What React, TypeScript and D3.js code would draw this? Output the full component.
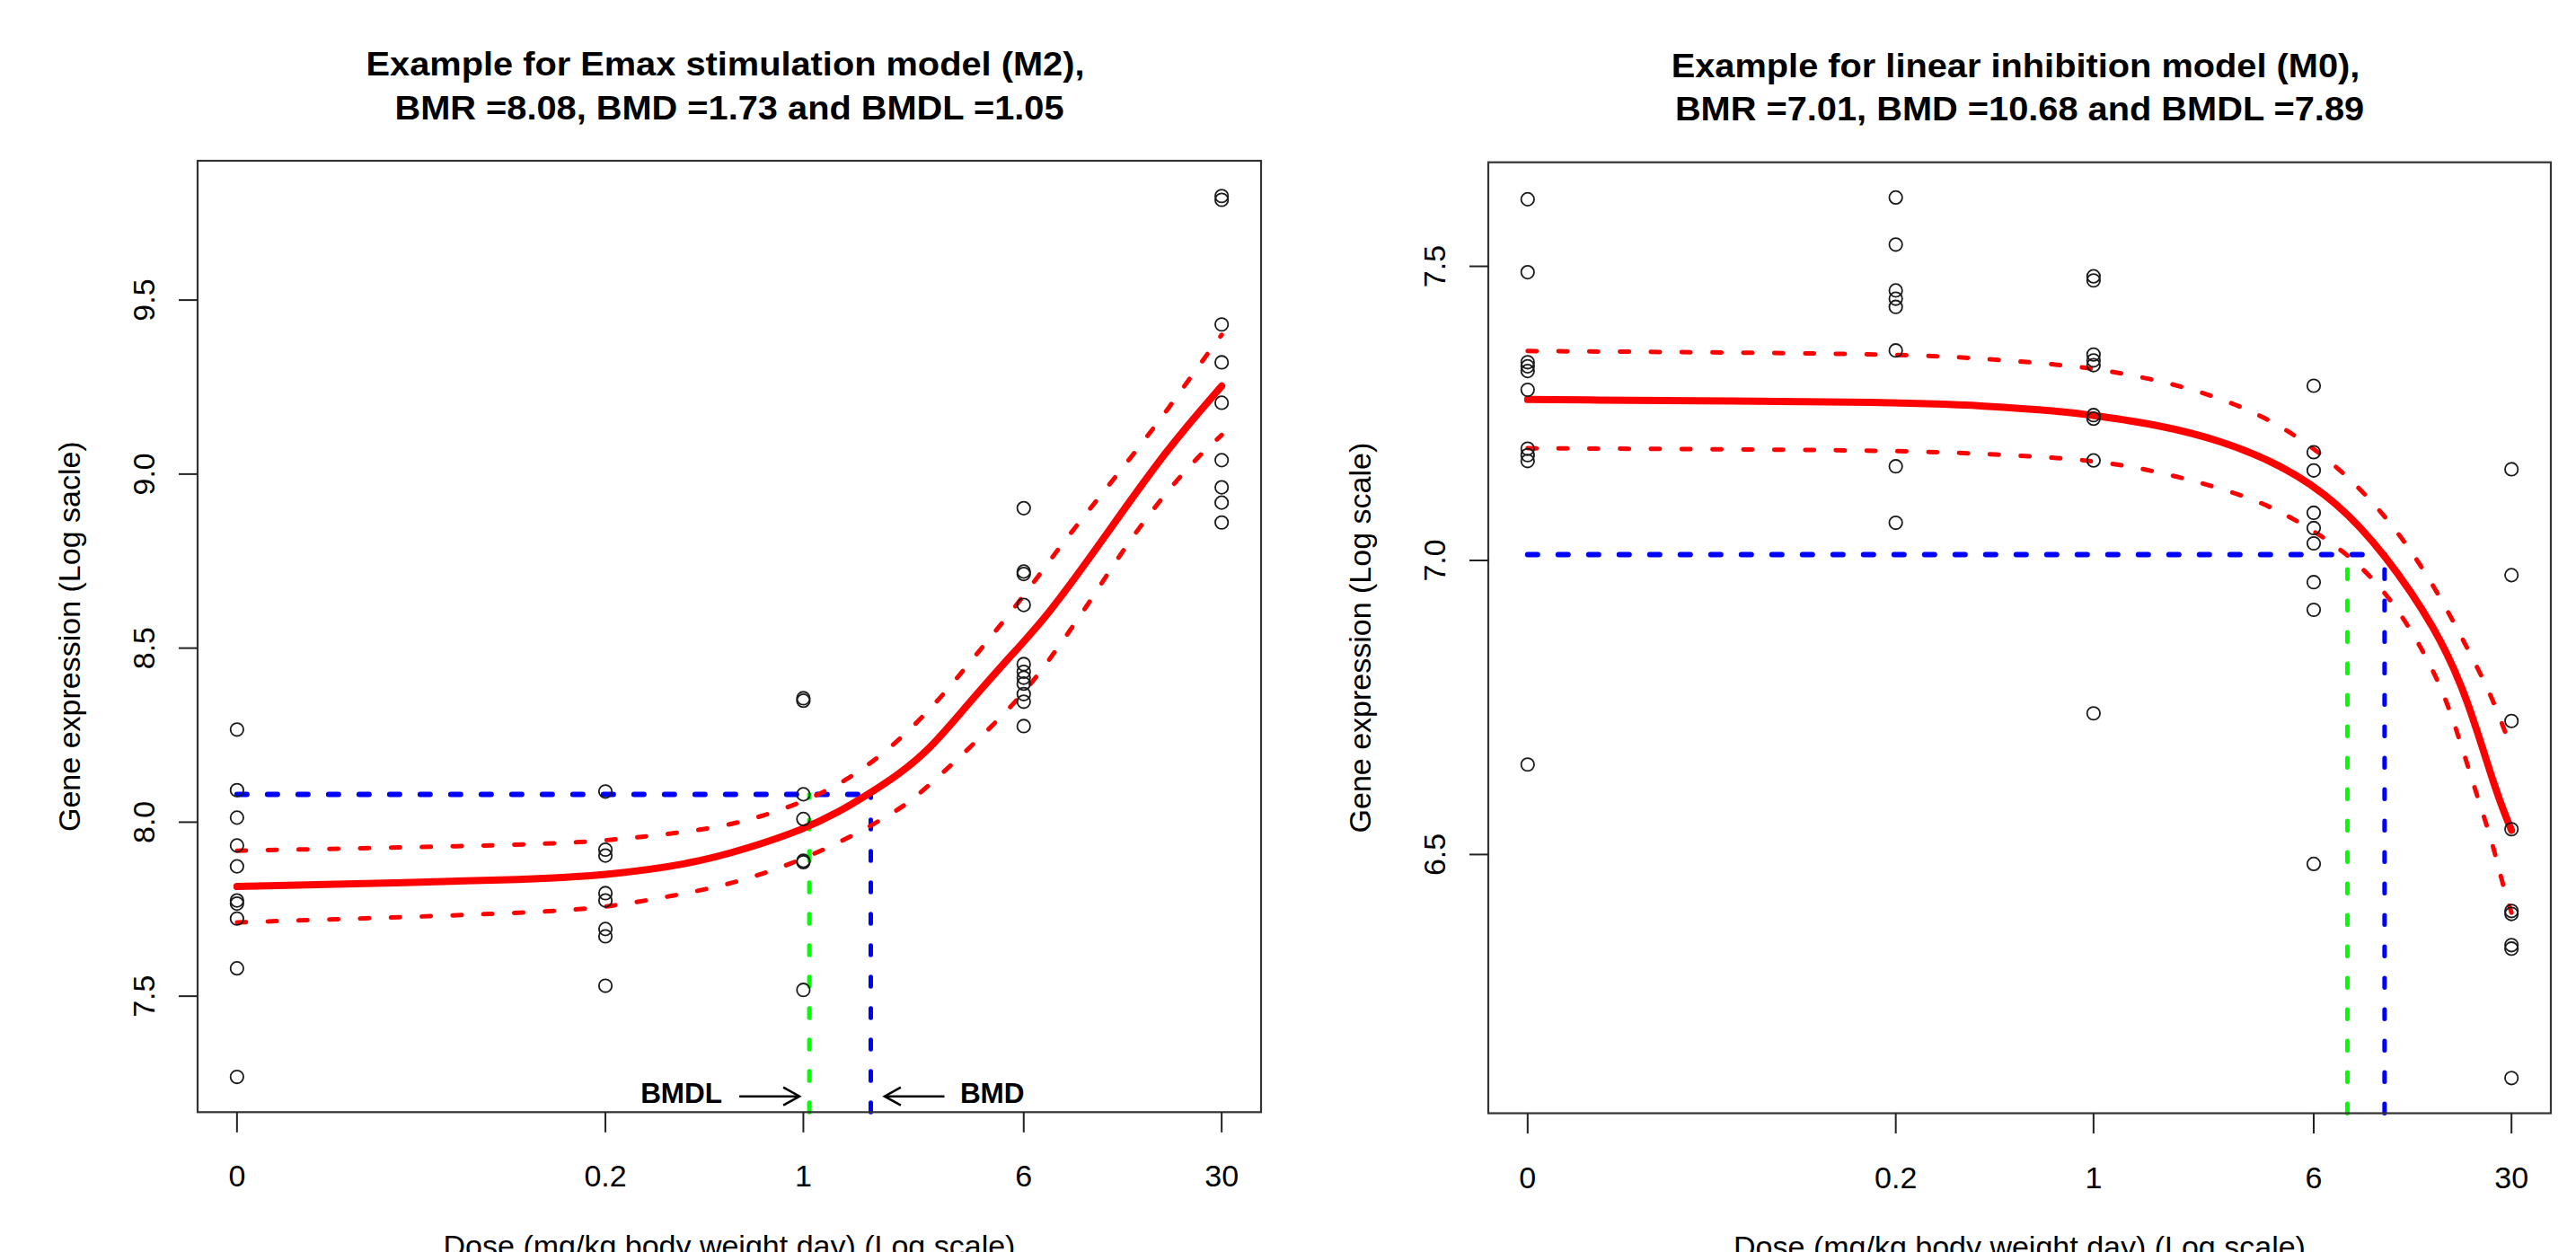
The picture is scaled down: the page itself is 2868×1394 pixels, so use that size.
import React from 'react';
import * as d3 from 'd3';

const W = 2868;
const H = 1394;

// ---------- shared x axis ----------
const doseLevels = [0, 0.2, 1, 6, 30];
const doseTickLabels = ['0', '0.2', '1', '6', '30'];
const ZERO_POS = 0.01; // dose 0 is drawn at 0.01 on the log axis

// ---------- left panel: Emax stimulation model (M2) ----------
const emaxObsByDose = [
  [8.266, 8.092, 8.013, 7.933, 7.873, 7.775, 7.766, 7.723, 7.58, 7.268],
  [8.088, 7.921, 7.904, 7.796, 7.775, 7.693, 7.672, 7.53],
  [8.356, 8.349, 8.08, 8.009, 7.889, 7.885, 7.518],
  [8.902, 8.72, 8.713, 8.624, 8.454, 8.432, 8.415, 8.398, 8.368, 8.346, 8.276],
  [9.799, 9.788, 9.43, 9.321, 9.205, 9.04, 8.962, 8.918, 8.861],
];
const emaxFitDose = [0, 0.1166, 0.2, 0.3937, 0.64, 1.0, 1.327, 1.694, 2.16, 2.754, 3.69, 5.06, 7.29, 11.88, 19.2, 30];
const emaxFitValue = [7.815, 7.835, 7.848, 7.878, 7.925, 7.979, 8.028, 8.08, 8.136, 8.204, 8.325, 8.454, 8.591, 8.832, 9.072, 9.253];
const emaxUpperDose = [0, 0.1238, 0.2116, 0.346, 0.5624, 0.915, 1.428, 2.133, 3.05, 4.14, 5.74, 7.69, 10.43, 14.3, 19.39, 25.96, 30];
const emaxUpperValue = [7.918, 7.935, 7.949, 7.967, 7.991, 8.044, 8.117, 8.226, 8.355, 8.488, 8.628, 8.77, 8.907, 9.046, 9.186, 9.332, 9.4];
const emaxLowerDose = [0, 0.1254, 0.2116, 0.3457, 0.56, 0.9, 1.428, 2.196, 2.689, 5.58, 7.47, 10.05, 13.07, 17.58, 24.3, 30];
const emaxLowerValue = [7.712, 7.74, 7.758, 7.788, 7.822, 7.878, 7.951, 8.037, 8.093, 8.335, 8.471, 8.621, 8.767, 8.912, 9.045, 9.112];
const emaxYTicks = [7.5, 8.0, 8.5, 9.0, 9.5];
const emaxYTickLabels = ['7.5', '8.0', '8.5', '9.0', '9.5'];
const emaxBMR = 8.08;
const emaxBMD = 1.73;
const emaxBMDL = 1.05;

// ---------- right panel: linear inhibition model (M0) ----------
const linObsByDose = [
  [7.614, 7.49, 7.337, 7.33, 7.322, 7.29, 7.19, 7.179, 7.169, 6.653],
  [7.617, 7.537, 7.459, 7.445, 7.431, 7.357, 7.16, 7.064],
  [7.483, 7.476, 7.35, 7.34, 7.332, 7.247, 7.241, 7.17, 6.74],
  [7.297, 7.184, 7.153, 7.081, 7.055, 7.029, 6.963, 6.916, 6.484],
  [7.155, 6.975, 6.727, 6.543, 6.404, 6.399, 6.346, 6.34, 6.12],
];
const linFitDose = [0, 0.2, 0.417, 0.796, 1, 1.69, 2.8, 4.63, 7.27, 10.68, 16.26, 20.9, 26.45, 30];
const linFitValue = [7.2735, 7.2693, 7.263, 7.253, 7.2465, 7.2308, 7.2046, 7.1625, 7.0995, 7.012, 6.884, 6.769, 6.605, 6.541];
const linUpperDose = [0, 0.2, 0.417, 0.892, 1.493, 2.47, 3.98, 5.95, 8.68, 12.02, 16.26, 22.8, 25.4, 27.9, 30];
const linUpperValue = [7.356, 7.3517, 7.343, 7.3306, 7.3123, 7.286, 7.2465, 7.194, 7.1257, 7.047, 6.9524, 6.817, 6.77, 6.72, 6.68];
const linLowerDose = [0, 0.2, 0.417, 0.892, 1.493, 2.47, 3.98, 5.95, 7.65, 9.83, 12.64, 16.26, 18.82, 22.3, 25.8, 27.8, 30];
const linLowerValue = [7.1907, 7.1876, 7.181, 7.173, 7.157, 7.131, 7.0995, 7.052, 7.0154, 6.968, 6.9, 6.8053, 6.726, 6.61, 6.518, 6.452, 6.401];
const linYTicks = [6.5, 7.0, 7.5];
const linYTickLabels = ['6.5', '7.0', '7.5'];
const linBMR = 7.01;
const linBMD = 10.68;
const linBMDL = 7.89;

const FONT = "'Liberation Sans', Arial, Helvetica, sans-serif";
const RED = '#FF0000';
const BLUE = '#0000FF';
const GREEN = '#00FF00';

type Box = { left: number; right: number; top: number; bottom: number };

type PanelProps = {
  box: Box;
  obs: number[][];
  fit: [number[], number[]];
  upper: [number[], number[]];
  lower: [number[], number[]];
  yTicks: number[];
  yTickLabels: string[];
  title1: string;
  title2: string;
  yLabel: string;
  bmr: number;
  bmd: number;
  bmdl: number;
  annotate: boolean;
};

const pos = (d: number) => (d === 0 ? ZERO_POS : d);

function Panel(p: PanelProps) {
  const { left, right, top, bottom } = p.box;
  const lo = Math.log10(ZERO_POS);
  const hi = Math.log10(d3.max(doseLevels) as number);
  const xpad = 0.04 * (hi - lo);
  const x = d3.scaleLog().domain([Math.pow(10, lo - xpad), Math.pow(10, hi + xpad)]).range([left, right]);
  const all = p.obs.flat();
  const mn = d3.min(all) as number;
  const mx = d3.max(all) as number;
  const ypad = 0.04 * (mx - mn);
  const y = d3.scaleLinear().domain([mn - ypad, mx + ypad]).range([bottom, top]);

  const line = d3
    .line<[number, number]>()
    .x((d) => x(pos(d[0])))
    .y((d) => y(d[1]))
    .curve(d3.curveBasis);
  const pts = (s: [number[], number[]]) => s[0].map((d, i) => [d, s[1][i]] as [number, number]);

  const cx = (left + right) / 2;
  const cy = (top + bottom) / 2;
  const xb = x(p.bmd);
  const xl = x(p.bmdl);
  const yb = y(p.bmr);
  const arrowY = bottom - 17.6;
  const labelY = bottom - 10;

  return (
    <g>
      {/* titles */}
      <g transform={`translate(${cx - 4.5},${top - 95}) scale(1.105,1)`}>
        <text textAnchor="middle" fontFamily={FONT} fontWeight="bold" fontSize={36} fill="#000">
          {p.title1}
        </text>
      </g>
      <g transform={`translate(${cx},${top - 46.5}) scale(1.105,1)`}>
        <text textAnchor="middle" fontFamily={FONT} fontWeight="bold" fontSize={36} fill="#000">
          {p.title2}
        </text>
      </g>

      {/* reference lines */}
      <line x1={x(ZERO_POS)} x2={xb} y1={yb} y2={yb} stroke={BLUE} strokeWidth={6} strokeDasharray="11 23" strokeLinecap="round" />
      <line x1={xb} x2={xb} y1={bottom} y2={yb} stroke={BLUE} strokeWidth={5} strokeDasharray="10.5 24.5" strokeLinecap="round" />
      <line x1={xl} x2={xl} y1={bottom} y2={yb} stroke={GREEN} strokeWidth={5} strokeDasharray="10.5 24.5" strokeLinecap="round" />

      {/* fitted curve and bounds */}
      <path d={line(pts(p.upper)) || ''} fill="none" stroke={RED} strokeWidth={5} strokeDasharray="10 24.3" strokeLinecap="round" />
      <path d={line(pts(p.lower)) || ''} fill="none" stroke={RED} strokeWidth={5} strokeDasharray="10 24.3" strokeLinecap="round" />
      <path d={line(pts(p.fit)) || ''} fill="none" stroke={RED} strokeWidth={8} strokeLinecap="round" strokeLinejoin="round" />

      {/* observations */}
      {p.obs.map((grp, gi) =>
        grp.map((v, i) => (
          <circle key={`${gi}-${i}`} cx={x(pos(doseLevels[gi]))} cy={y(v)} r={7.2} fill="none" stroke="#1a1a1a" strokeWidth={1.8} />
        ))
      )}

      {/* box */}
      <rect x={left} y={top} width={right - left} height={bottom - top} fill="none" stroke="#333" strokeWidth={2.2} />

      {/* x axis ticks */}
      {doseLevels.map((d, i) => (
        <g key={`xt${i}`}>
          <line x1={x(pos(d))} x2={x(pos(d))} y1={bottom} y2={bottom + 22.5} stroke="#222" strokeWidth={2} />
          <text x={x(pos(d))} y={bottom + 83} textAnchor="middle" fontFamily={FONT} fontSize={34} fill="#000">
            {doseTickLabels[i]}
          </text>
        </g>
      ))}
      {/* y axis ticks */}
      {p.yTicks.map((t, i) => (
        <g key={`yt${i}`}>
          <line x1={left - 21} x2={left} y1={y(t)} y2={y(t)} stroke="#222" strokeWidth={2} />
          <text transform={`translate(${left - 48},${y(t)}) rotate(-90)`} textAnchor="middle" fontFamily={FONT} fontSize={34} fill="#000">
            {p.yTickLabels[i]}
          </text>
        </g>
      ))}

      {/* axis titles */}
      <text x={cx} y={bottom + 160.7} textAnchor="middle" fontFamily={FONT} fontSize={34} fill="#000">
        Dose (mg/kg body weight day) (Log scale)
      </text>
      <text transform={`translate(${left - 131},${cy}) rotate(-90)`} textAnchor="middle" fontFamily={FONT} fontSize={34} fill="#000">
        {p.yLabel}
      </text>

      {/* BMDL / BMD annotation */}
      {p.annotate && (
        <g>
          <text x={xl - 97} y={labelY} textAnchor="end" fontFamily={FONT} fontWeight="bold" fontSize={31.5} fill="#000">
            BMDL
          </text>
          <line x1={xl - 78} x2={xl - 11} y1={arrowY} y2={arrowY} stroke="#000" strokeWidth={2.5} />
          <polyline
            points={`${xl - 29},${arrowY - 10} ${xl - 11},${arrowY} ${xl - 29},${arrowY + 10}`}
            fill="none"
            stroke="#000"
            strokeWidth={2.5}
          />
          <line x1={xb + 82} x2={xb + 15.4} y1={arrowY} y2={arrowY} stroke="#000" strokeWidth={2.5} />
          <polyline
            points={`${xb + 33.4},${arrowY - 10} ${xb + 15.4},${arrowY} ${xb + 33.4},${arrowY + 10}`}
            fill="none"
            stroke="#000"
            strokeWidth={2.5}
          />
          <text x={xb + 99.4} y={labelY} textAnchor="start" fontFamily={FONT} fontWeight="bold" fontSize={31.5} fill="#000">
            BMD
          </text>
        </g>
      )}
    </g>
  );
}

export default function App() {
  return (
    <div style={{ position: 'absolute', left: 0, top: 0, width: W, height: H, overflow: 'hidden', background: '#fff' }}>
      <svg width={W} height={H} viewBox={`0 0 ${W} ${H}`} style={{ display: 'block', background: '#fff' }}>
        <rect x={0} y={0} width={W} height={H} fill="#fff" />
        <Panel
          box={{ left: 220, right: 1404, top: 179, bottom: 1238.3 }}
          obs={emaxObsByDose}
          fit={[emaxFitDose, emaxFitValue]}
          upper={[emaxUpperDose, emaxUpperValue]}
          lower={[emaxLowerDose, emaxLowerValue]}
          yTicks={emaxYTicks}
          yTickLabels={emaxYTickLabels}
          title1="Example for Emax stimulation model (M2),"
          title2="BMR =8.08, BMD =1.73 and BMDL =1.05"
          yLabel="Gene expression (Log sacle)"
          bmr={emaxBMR}
          bmd={emaxBMD}
          bmdl={emaxBMDL}
          annotate={true}
        />
        <Panel
          box={{ left: 1657, right: 2840, top: 180.7, bottom: 1239.5 }}
          obs={linObsByDose}
          fit={[linFitDose, linFitValue]}
          upper={[linUpperDose, linUpperValue]}
          lower={[linLowerDose, linLowerValue]}
          yTicks={linYTicks}
          yTickLabels={linYTickLabels}
          title1="Example for linear inhibition model (M0),"
          title2="BMR =7.01, BMD =10.68 and BMDL =7.89"
          yLabel="Gene expression (Log scale)"
          bmr={linBMR}
          bmd={linBMD}
          bmdl={linBMDL}
          annotate={false}
        />
      </svg>
    </div>
  );
}
